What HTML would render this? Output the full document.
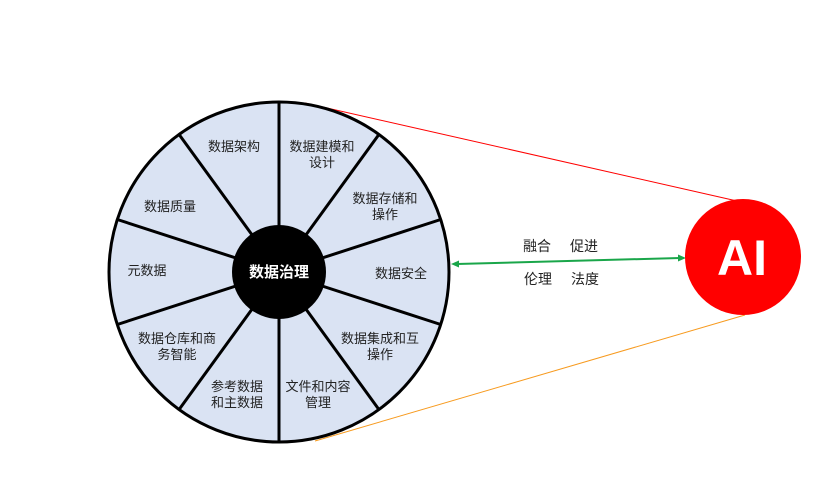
<!DOCTYPE html>
<html><head><meta charset="utf-8"><style>
html,body{margin:0;padding:0;background:#fff;}
svg text{font-family:"Liberation Sans","Noto Sans CJK SC",sans-serif;font-size:13px;fill:#222;text-anchor:middle;}
</style></head><body>
<svg width="840" height="482" viewBox="0 0 840 482" xmlns="http://www.w3.org/2000/svg">
<line x1="305" y1="103" x2="737" y2="201" stroke="#ff0000" stroke-width="1"/>
<line x1="315" y1="441" x2="745" y2="315" stroke="#f79a1e" stroke-width="1"/>
<circle cx="279" cy="272" r="170" fill="#dae3f3" stroke="#000" stroke-width="3"/>
<g stroke="#000" stroke-width="3">
<line x1="279" y1="272" x2="279.0" y2="102.0"/>
<line x1="279" y1="272" x2="378.9" y2="134.5"/>
<line x1="279" y1="272" x2="440.7" y2="219.5"/>
<line x1="279" y1="272" x2="440.7" y2="324.5"/>
<line x1="279" y1="272" x2="378.9" y2="409.5"/>
<line x1="279" y1="272" x2="279.0" y2="442.0"/>
<line x1="279" y1="272" x2="179.1" y2="409.5"/>
<line x1="279" y1="272" x2="117.3" y2="324.5"/>
<line x1="279" y1="272" x2="117.3" y2="219.5"/>
<line x1="279" y1="272" x2="179.1" y2="134.5"/>
</g>
<circle cx="279" cy="272" r="47" fill="#000"/>
<text x="279" y="277" style="fill:#fff;font-weight:bold;font-size:15px">数据治理</text>
<text x="234" y="151">数据架构</text>
<text x="322" y="151">数据建模和</text><text x="322" y="167">设计</text>
<text x="385" y="203">数据存储和</text><text x="385" y="219">操作</text>
<text x="401" y="278">数据安全</text>
<text x="380" y="343">数据集成和互</text><text x="380" y="359">操作</text>
<text x="318" y="391">文件和内容</text><text x="318" y="407">管理</text>
<text x="237" y="391">参考数据</text><text x="237" y="407">和主数据</text>
<text x="177" y="343">数据仓库和商</text><text x="177" y="359">务智能</text>
<text x="147" y="275">元数据</text>
<text x="170" y="211">数据质量</text>
<line x1="457" y1="264" x2="680" y2="258" stroke="#1aa64a" stroke-width="2"/>
<polygon points="451,264 459,260.5 459,267.5" fill="#1aa64a"/>
<polygon points="686,258 678,254.5 678,261.5" fill="#1aa64a"/>
<text x="537" y="251" style="font-size:14px">融合</text>
<text x="584" y="251" style="font-size:14px">促进</text>
<text x="538" y="284" style="font-size:14px">伦理</text>
<text x="585" y="284" style="font-size:14px">法度</text>
<circle cx="743" cy="257" r="58" fill="#ff0000"/>
<text x="742" y="275" style="fill:#fff;font-weight:bold;font-size:50px">AI</text>
</svg>
</body></html>
